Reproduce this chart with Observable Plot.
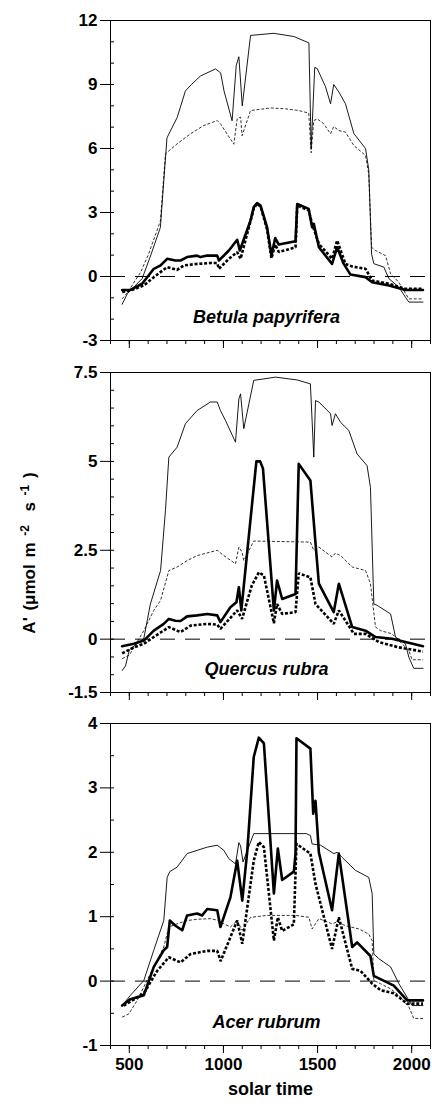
<!DOCTYPE html>
<html><head><meta charset="utf-8">
<script src="https://cdn.jsdelivr.net/npm/d3@7"></script>
<script src="https://cdn.jsdelivr.net/npm/@observablehq/plot@0.6"></script>
<style>
body{margin:0;background:#fff;}
#wrap{position:relative;width:432px;height:1104px;overflow:hidden;}
#wrap svg{display:block;}
#ylab{position:absolute;left:29px;top:553px;transform:translate(-50%,-50%) rotate(-90deg);white-space:nowrap;font-family:"Liberation Sans",Arial,Helvetica,sans-serif;font-weight:bold;font-size:17px;color:#000;word-spacing:2px;}
#ylab sup{font-size:12px;}
</style>
</head><body>
<div id="wrap"><div id="ylab">A' (μmol m <sup>-2</sup>&nbsp; s <sup>-1</sup> )</div></div>
<script>
// ---- data: [solar time, A'] ----
const betulaThin = [[462,-1.3],[490,-0.8],[568,-0.1],[610,0.9],[665,2.3],[700,6.5],[754,7.45],[798,8.7],[830,9.0],[878,9.4],[958,9.73],[985,9.55],[1003,8.7],[1046,7.3],[1068,9.9],[1082,10.3],[1100,8.0],[1144,11.3],[1268,11.4],[1374,11.25],[1454,10.95],[1466,6.0],[1485,9.8],[1498,9.75],[1542,8.9],[1569,8.1],[1586,9.0],[1613,8.65],[1648,8.1],[1693,6.7],[1755,6.0],[1772,5.0],[1787,1.05],[1799,0.6],[1852,0.44],[1879,-0.1],[1932,-0.5],[1967,-0.97],[1985,-1.2],[2060,-1.2]];
const betulaDash = [[462,-1.05],[490,-0.75],[560,0.2],[600,1.0],[665,2.6],[692,5.75],[754,6.22],[825,6.69],[896,7.08],[967,7.31],[984,7.16],[1055,6.2],[1073,7.39],[1091,7.47],[1099,6.6],[1144,7.78],[1250,7.9],[1330,7.86],[1400,7.78],[1453,7.66],[1466,5.8],[1480,7.31],[1498,7.39],[1533,7.16],[1569,6.69],[1586,7.03],[1613,6.84],[1648,6.77],[1693,6.14],[1755,5.67],[1772,4.8],[1787,1.37],[1808,1.22],[1861,0.98],[1888,0.13],[1932,-0.27],[1958,-0.66],[1985,-1.05],[2060,-1.05]];
const betulaThick = [[462,-0.63],[506,-0.63],[568,-0.34],[630,0.36],[666,0.52],[701,0.83],[745,0.75],[772,0.75],[807,0.91],[860,0.98],[878,0.91],[914,0.98],[967,0.98],[976,0.75],[1029,1.22],[1073,1.72],[1087,1.22],[1144,2.63],[1161,3.25],[1179,3.44],[1197,3.33],[1232,2.3],[1255,1.0],[1275,1.8],[1294,1.5],[1383,1.65],[1392,3.4],[1453,3.17],[1471,2.31],[1480,2.47],[1507,1.37],[1577,0.59],[1604,1.37],[1639,0.59],[1675,0.09],[1755,-0.03],[1790,-0.27],[1879,-0.42],[1967,-0.63],[2060,-0.63]];
const betulaDot = [[462,-0.73],[506,-0.66],[577,-0.42],[630,-0.03],[701,0.44],[754,0.31],[790,0.52],[860,0.59],[931,0.63],[967,0.63],[976,0.36],[1029,0.83],[1073,1.14],[1091,0.83],[1144,2.6],[1161,3.2],[1179,3.41],[1197,3.28],[1232,2.2],[1255,0.85],[1275,1.5],[1294,1.15],[1383,1.37],[1392,3.33],[1453,3.1],[1471,2.47],[1507,1.53],[1577,0.83],[1604,1.69],[1648,0.59],[1684,0.47],[1755,0.36],[1790,-0.19],[1879,-0.34],[1967,-0.58],[2060,-0.58]];

const quercusThin = [[462,-0.88],[480,-0.75],[500,-0.3],[577,0.02],[612,0.99],[666,1.93],[692,3.62],[710,5.12],[754,5.4],[798,6.06],[860,6.43],[931,6.67],[967,6.67],[984,6.43],[1011,6.15],[1064,5.54],[1082,6.76],[1091,6.9],[1108,5.92],[1161,7.28],[1215,7.32],[1277,7.37],[1392,7.29],[1462,7.18],[1480,5.12],[1489,6.71],[1507,6.67],[1569,6.34],[1577,6.01],[1595,6.34],[1622,6.1],[1666,5.87],[1710,5.21],[1763,4.88],[1781,4.27],[1799,0.99],[1817,0.95],[1888,0.71],[1914,0.06],[1967,-0.13],[1985,-0.51],[2011,-0.82],[2060,-0.82]];
const quercusDash = [[462,-0.55],[500,-0.45],[577,0.24],[630,0.81],[666,1.09],[710,1.93],[754,2.03],[807,2.21],[860,2.35],[931,2.45],[967,2.5],[1002,2.35],[1064,2.12],[1082,2.59],[1099,2.45],[1108,2.21],[1161,2.76],[1462,2.73],[1480,2.5],[1507,2.59],[1577,2.31],[1595,2.42],[1622,2.35],[1684,2.03],[1755,1.93],[1781,1.56],[1808,0.34],[1834,0.24],[1896,0.15],[1932,-0.04],[1985,-0.32],[2002,-0.58],[2060,-0.58]];
const quercusThick = [[462,-0.2],[524,-0.13],[577,-0.04],[630,0.24],[683,0.43],[710,0.57],[745,0.52],[772,0.51],[807,0.64],[860,0.67],[914,0.71],[967,0.67],[984,0.48],[1037,0.9],[1069,1.04],[1082,1.46],[1095,0.81],[1175,5.0],[1195,5.0],[1210,4.8],[1268,0.81],[1285,1.65],[1312,1.13],[1383,1.27],[1400,4.93],[1462,4.46],[1489,2.7],[1507,1.56],[1586,0.76],[1613,1.56],[1684,0.34],[1755,0.24],[1808,0.06],[1896,0.01],[1967,-0.08],[2060,-0.2]];
const quercusDot = [[462,-0.4],[524,-0.23],[577,-0.13],[630,0.06],[710,0.34],[772,0.2],[825,0.38],[914,0.43],[967,0.41],[984,0.29],[1073,0.81],[1099,0.57],[1150,1.5],[1188,1.88],[1215,1.79],[1268,0.45],[1285,0.99],[1312,0.71],[1383,0.76],[1400,1.85],[1462,1.74],[1489,0.99],[1586,0.43],[1613,0.81],[1693,0.15],[1755,0.15],[1825,-0.08],[1932,-0.23],[2060,-0.35]];

const acerThin = [[462,-0.38],[506,-0.22],[577,0.01],[630,0.48],[683,0.94],[701,1.61],[715,1.7],[754,1.77],[807,1.98],[860,2.03],[914,2.08],[967,2.11],[1002,2.03],[1029,1.9],[1064,1.82],[1082,2.15],[1091,2.1],[1104,1.85],[1161,2.29],[1440,2.29],[1462,2.26],[1471,2.13],[1516,2.11],[1586,1.98],[1604,2.0],[1631,1.92],[1701,1.72],[1772,1.61],[1790,1.36],[1799,0.42],[1825,0.35],[1888,0.22],[1932,-0.04],[2002,-0.38],[2060,-0.38]];
const acerDash = [[462,-0.56],[497,-0.51],[542,-0.3],[577,-0.09],[630,0.22],[683,0.53],[710,0.84],[754,0.89],[807,0.94],[860,0.96],[931,0.97],[976,0.94],[1002,0.89],[1037,0.84],[1073,0.94],[1099,0.79],[1144,0.99],[1232,1.02],[1383,1.02],[1454,0.99],[1471,0.81],[1507,0.97],[1577,0.89],[1604,0.92],[1648,0.86],[1719,0.81],[1772,0.73],[1790,0.63],[1799,0.01],[1834,-0.04],[1888,-0.12],[1932,-0.22],[1985,-0.4],[2011,-0.58],[2060,-0.58]];
const acerThick = [[462,-0.38],[506,-0.28],[577,-0.22],[630,0.22],[683,0.48],[701,0.53],[715,0.94],[745,0.86],[781,0.79],[807,1.02],[860,1.05],[887,1.02],[914,1.12],[967,1.1],[984,0.84],[1037,1.3],[1073,1.87],[1100,1.25],[1127,2.03],[1161,3.48],[1188,3.78],[1215,3.69],[1268,1.36],[1289,2.06],[1312,1.57],[1374,1.7],[1383,1.98],[1388,3.77],[1462,3.61],[1477,2.6],[1489,2.8],[1507,2.0],[1577,1.1],[1613,1.98],[1684,0.53],[1710,0.6],[1781,0.39],[1799,0.08],[1834,0.03],[1905,-0.07],[1976,-0.3],[2060,-0.3]];
const acerDot = [[470,-0.38],[577,-0.19],[648,0.16],[710,0.37],[772,0.29],[825,0.42],[914,0.47],[967,0.47],[985,0.31],[1073,0.94],[1100,0.58],[1161,1.87],[1188,2.16],[1215,2.08],[1268,0.63],[1289,0.99],[1312,0.78],[1374,0.88],[1388,2.13],[1462,1.98],[1489,1.51],[1577,0.5],[1613,0.99],[1684,0.19],[1728,0.16],[1790,-0.04],[1834,-0.14],[1905,-0.19],[1976,-0.35],[2060,-0.35]];

// ---- axis ticks & labels ----
const xDomain = [400, 2100];
const xMajor = [500, 1000, 1500, 2000];
const xMinor = d3.range(400, 2101, 100);
const speciesNames = ["Betula papyrifera", "Quercus rubra", "Acer rubrum"];
const yDomains = [[-3, 12], [-1.5, 7.5], [-1, 4]];
const yMajors = [[-3, 0, 3, 6, 9, 12], [-1.5, 0, 2.5, 5, 7.5], [-1, 0, 1, 2, 3, 4]];
const yMinors = [d3.range(-3, 12.01, 1), d3.range(-1.5, 7.51, 0.5), d3.range(-1, 4.01, 0.5)];
const xLabel = "solar time";

const FONT = '"Liberation Sans", Arial, Helvetica, sans-serif';
const panels = [
  {series: [betulaThin, betulaDash, betulaThick, betulaDot], height: 352, mb: 12},
  {series: [quercusThin, quercusDash, quercusThick, quercusDot], height: 351, mb: 11},
  {series: [acerThin, acerDash, acerThick, acerDot], height: 401, mb: 59}
];
const styles = [
  {strokeWidth: 0.9},
  {strokeWidth: 0.8, strokeDasharray: "3,1.8", strokeLinecap: "butt"},
  {strokeWidth: 2.6},
  {strokeWidth: 2.6, strokeDasharray: "3,1.8", strokeLinecap: "butt", strokeLinejoin: "miter"}
];

const wrap = document.getElementById("wrap");
panels.forEach((p, i) => {
  const last = i === panels.length - 1;
  const marks = [
    Plot.ruleY([0], {stroke: "black", strokeWidth: 1, strokeDasharray: "15,10"}),
    ...p.series.map((s, k) => Plot.line(s, {x: d => d[0], y: d => d[1], stroke: "black", strokeLinejoin: "round", ...styles[k]})),
    Plot.frame({stroke: "black", strokeWidth: 1}),
    Plot.axisY({ticks: yMajors[i], tickSize: 10, tickPadding: 3, fontSize: 17, fontWeight: "bold", tickFormat: d => String(d), label: null}),
    Plot.axisY({ticks: yMinors[i], tickSize: 4, dx: 4, tickFormat: () => "", label: null}),
    Plot.axisX({ticks: xMajor, tickSize: 8, tickPadding: 4, fontSize: 17, fontWeight: "bold", tickFormat: last ? (d => String(d)) : (() => ""), label: null}),
    Plot.axisX({ticks: xMinor, tickSize: 4, tickFormat: () => "", label: null}),
    Plot.text([speciesNames[i]], {frameAnchor: "bottom", dy: -18, dx: -4, fontSize: 18, fontWeight: "bold", fontStyle: "italic", fill: "black"})
  ];
  if (last) marks.push(Plot.text([xLabel], {frameAnchor: "bottom", dy: 49, fontSize: 18, fontWeight: "bold", fill: "black"}));
  const svg = Plot.plot({
    width: 432, height: p.height,
    marginLeft: 110, marginRight: 2, marginTop: 20, marginBottom: p.mb,
    x: {domain: xDomain},
    y: {domain: yDomains[i]},
    style: {fontFamily: FONT, background: "white", color: "black", overflow: "visible"},
    marks
  });
  wrap.appendChild(svg);
});
</script>
</body></html>
